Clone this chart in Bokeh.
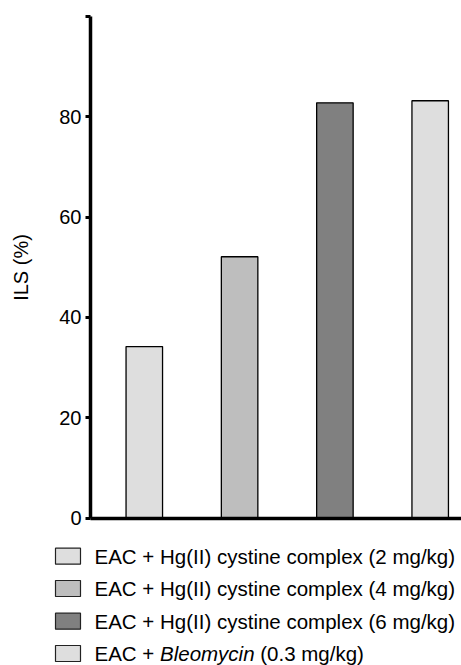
from bokeh.plotting import figure
from bokeh.models import Range1d, FixedTicker, LinearAxis
from bokeh.core.properties import value
from bokeh.embed import file_html
from bokeh.resources import INLINE

# ---- data ----
groups = [1, 2, 3, 4]
ils = [34.2, 52.1, 82.8, 83.2]
bar_colors = ["#dedede", "#bebebe", "#808080", "#dedede"]
legend_labels = [
    "EAC + Hg(II) cystine complex (2 mg/kg)",
    "EAC + Hg(II) cystine complex (4 mg/kg)",
    "EAC + Hg(II) cystine complex (6 mg/kg)",
]
last_label_parts = ["EAC +", "Bleomycin", "(0.3 mg/kg)"]
y_ticks = [0, 20, 40, 60, 80, 100]

FONT = "Liberation Sans"
W, H = 461, 665

# pixel geometry of the plotting area (axis corner at px 90, zero at py 517.6)
AX_PX, TOP_PY = 90, 16
PX_PER_X, PX_PER_Y = 95.3, 5.016
X_AXIS = 0.4355                      # data x where the y axis stands
XS = X_AXIS - AX_PX / PX_PER_X
XE = X_AXIS + (W - AX_PX) / PX_PER_X
YE = 100 + TOP_PY / PX_PER_Y
YS = 100 - (H - TOP_PY) / PX_PER_Y

def dx(px):
    return XS + px / PX_PER_X

def dy(py):
    return YE - py / PX_PER_Y

p = figure(width=W, height=H, output_backend="svg", toolbar_location=None,
           x_range=Range1d(XS, XE), y_range=Range1d(YS, YE),
           x_axis_location=None, y_axis_location=None, min_border=0)
p.outline_line_color = None
p.xgrid.visible = False
p.ygrid.visible = False

p.vbar(x=groups, top=ils, width=0.383, bottom=0, fill_color=bar_colors,
       line_color="black", line_width=1.3)

# y axis
ya = LinearAxis(fixed_location=X_AXIS, bounds=(0, 100),
                ticker=FixedTicker(ticks=y_ticks))
ya.major_label_overrides = {100: ""}
ya.axis_line_width = 3.5
ya.major_tick_line_width = 3
ya.major_tick_out = 5
ya.major_tick_in = 0
ya.minor_tick_line_color = None
ya.major_label_text_font = FONT
ya.major_label_text_font_size = "20px"
ya.major_label_text_color = "black"
ya.major_label_standoff = 4
ya.axis_label = "ILS (%)"
ya.axis_label_text_font = FONT
ya.axis_label_text_font_size = "20px"
ya.axis_label_text_font_style = "normal"
ya.axis_label_text_color = "black"
ya.axis_label_standoff = 24
p.add_layout(ya, "left")

# x axis: line only
xa = LinearAxis(fixed_location=0, bounds=(X_AXIS, XE),
                ticker=FixedTicker(ticks=[]))
xa.axis_line_width = 3.5
xa.major_tick_line_color = None
xa.minor_tick_line_color = None
xa.major_label_text_font_size = "0px"
p.add_layout(xa, "below")

# ---- legend ----
FS = 20.5
row_py = [555.7, 588.0, 620.7, 653.0]
sq_px = 67.5
txt_px = 94

p.rect(x=[dx(sq_px)] * 4, y=[dy(r) for r in row_py], width=25, height=16,
       width_units="screen", height_units="screen",
       fill_color=bar_colors, line_color="#222222", line_width=1.2)

p.text(x=[dx(txt_px)] * 3, y=[dy(r) for r in row_py[:3]], text=legend_labels,
       text_font=value(FONT), text_font_size=f"{FS}px",
       text_baseline="middle", text_align="left", text_color="black")

# last row with the drug name in italics (Arial-metric advance widths)
w_eac = 3.196 * FS          # "EAC + " incl. trailing space
w_bleo = 4.612 * FS         # "Bleomycin"
w_space = 0.278 * FS
offs = [0, w_eac, w_eac + w_bleo + w_space]
styles = ["normal", "italic", "normal"]
for part, off, st in zip(last_label_parts, offs, styles):
    p.text(x=[dx(txt_px + off)], y=[dy(row_py[3])], text=[part],
           text_font=value(FONT), text_font_size=f"{FS}px",
           text_font_style=st,
           text_baseline="middle", text_align="left", text_color="black")

open("out.html", "w").write(file_html(p, INLINE))
